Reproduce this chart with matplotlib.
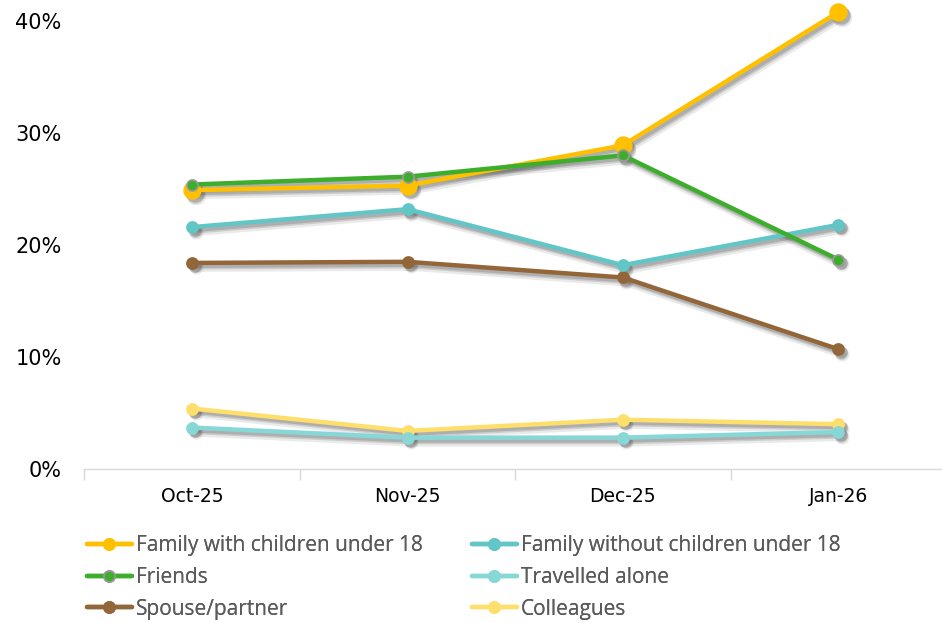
import matplotlib
matplotlib.use("Agg")
import matplotlib.pyplot as plt
from matplotlib.transforms import offset_copy
from matplotlib.ticker import FuncFormatter

months = ["Oct-25", "Nov-25", "Dec-25", "Jan-26"]

family_with_children = [24.9, 25.3, 28.9, 40.8]
family_without_children = [21.6, 23.2, 18.2, 21.8]
friends = [25.4, 26.1, 28.0, 18.7]
travelled_alone = [3.7, 2.8, 2.8, 3.3]
spouse_partner = [18.4, 18.5, 17.1, 10.7]
colleagues = [5.4, 3.4, 4.4, 4.0]

plt.rcParams["font.family"] = ["DejaVu Sans"]

fig = plt.figure(figsize=(9.42, 6.23), dpi=100)
ax = fig.add_axes([84.4 / 942, 154 / 623, 861.6 / 942, 448 / 623])

x = list(range(len(months)))

series = [
  # label, values, color, marker size, edge colour, zorder
  ("Family with children under 18", family_with_children, "#FFC000", 12, "#FFC000", 5),
  ("Friends", friends, "#3DAE2B", 8, "#9a9a9a", 6),
  ("Spouse/partner", spouse_partner, "#936639", 8, "#936639", 5),
  ("Family without children under 18", family_without_children, "#62C6C6", 8, "#62C6C6", 5),
  ("Travelled alone", travelled_alone, "#88D7D7", 8, "#88D7D7", 5),
  ("Colleagues", colleagues, "#FFDF6B", 8, "#FFDF6B", 4),
]

# soft drop shadows under each series
for label, vals, color, ms, mec, z in series:
  for dx, dy, lw, a in [(3.5, -4.5, 6.5, 0.12), (3, -3.5, 4.5, 0.2), (2.5, -3, 3, 0.25)]:
    tr = offset_copy(ax.transData, fig=fig, x=dx, y=dy, units="dots")
    ax.plot(x, vals, color="#555555", lw=lw, alpha=a, marker="o", ms=ms + lw / 3,
            mew=0, transform=tr, zorder=1, clip_on=False, solid_capstyle="round")

handles = []
for label, vals, color, ms, mec, z in series:
  ln, = ax.plot(x, vals, color=color, lw=3.2, marker="o", ms=ms, mfc=color, mec=mec,
                mew=1.2, label=label, zorder=z, clip_on=False, solid_capstyle="round")
  handles.append(ln)

ax.set_xlim(-0.5, 3.5)
ax.set_ylim(0, 40)
ax.set_yticks([0, 10, 20, 30, 40])
ax.yaxis.set_major_formatter(FuncFormatter(lambda v, p: f"{v:.0f}%"))
ax.set_xticks(x)
ax.set_xticklabels(months)
ax.set_xticks([-0.5, 0.5, 1.5, 2.5, 3.5], minor=True)
ax.tick_params(axis="x", which="major", length=0, pad=13, labelsize=13.5, labelcolor="#000000")
ax.tick_params(axis="x", which="minor", length=8, color="#D9D9D9", width=1)
ax.tick_params(axis="y", length=0, pad=16.5, labelsize=15, labelcolor="#000000")

for s in ["top", "right", "left"]:
  ax.spines[s].set_visible(False)
ax.spines["bottom"].set_color("#D9D9D9")
ax.spines["bottom"].set_linewidth(1)
ax.spines["bottom"].set_zorder(0)

# two legend columns placed separately
for cols, x0 in [(handles[:3], 87), (handles[3:], 472)]:
  leg = fig.legend(handles=cols, loc="upper left",
                   bbox_to_anchor=(x0 / 942, 1 - 535 / 623), frameon=False,
                   prop={"family": "Open Sans", "size": 15}, labelcolor="#5a5a5a",
                   handlelength=2.15, handletextpad=0.19, labelspacing=0.52,
                   borderaxespad=0, borderpad=0)
  for h in leg.legend_handles:
    h.set_markersize(8)
  fig.add_artist(leg)

fig.savefig("out.png", dpi=100)
